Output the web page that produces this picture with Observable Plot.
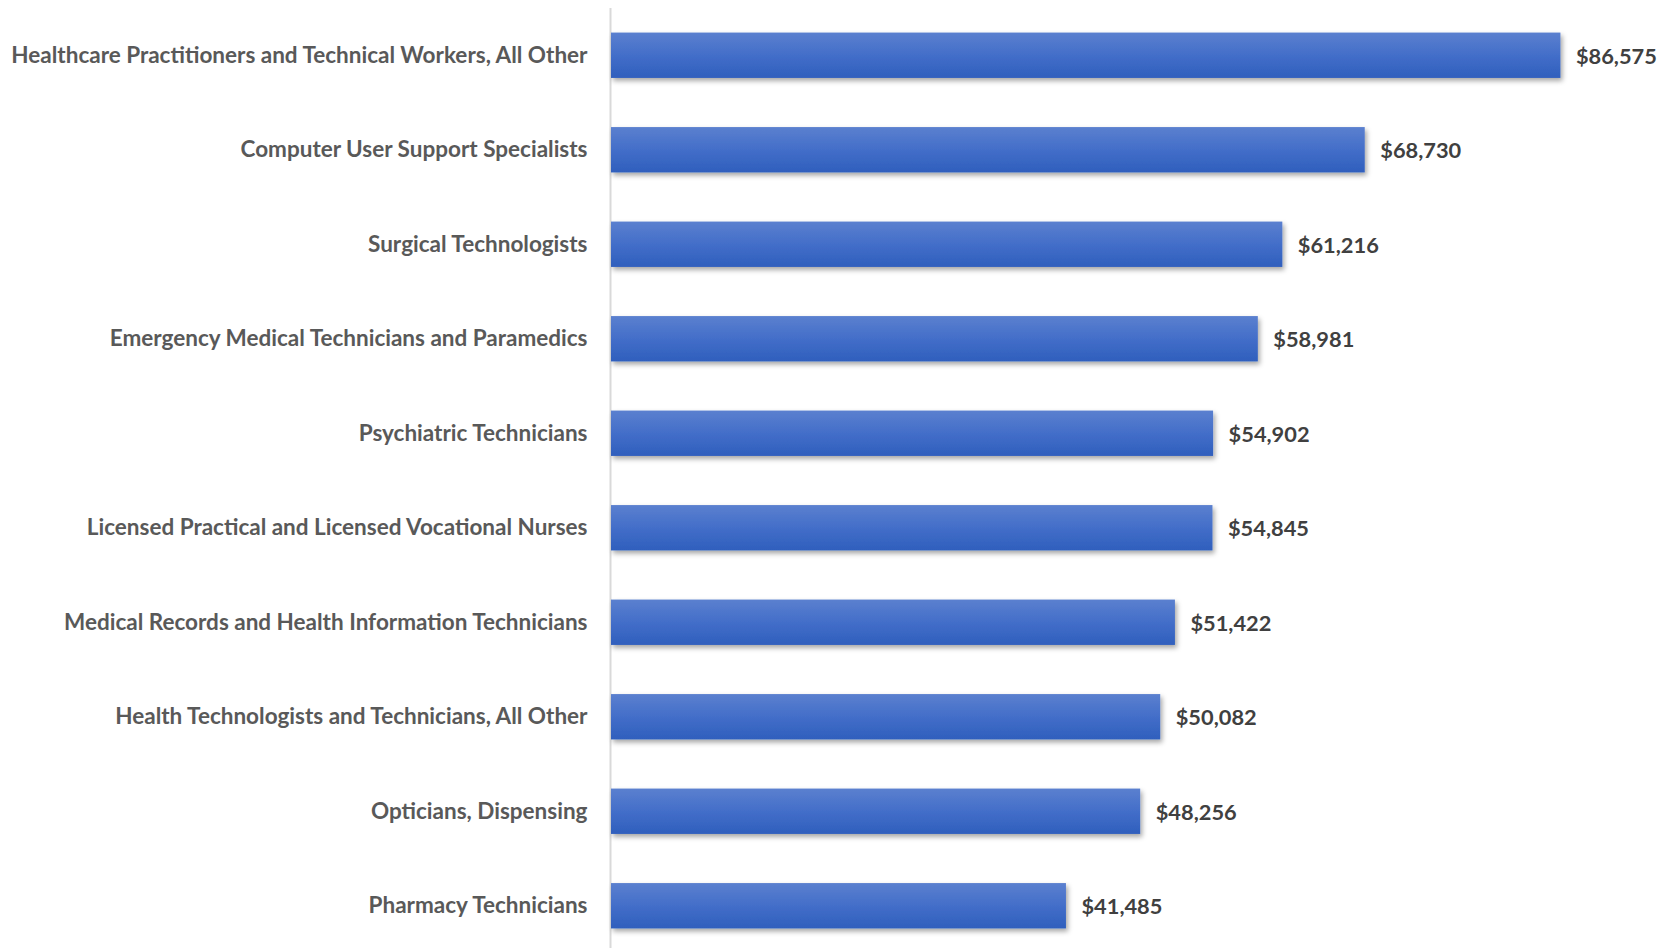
<!DOCTYPE html>
<html>
<head>
<meta charset="utf-8">
<script src="https://cdn.jsdelivr.net/npm/d3@7"></script>
<script src="https://cdn.jsdelivr.net/npm/@observablehq/plot@0.6"></script>
<style>
  html, body { margin: 0; padding: 0; background: #ffffff; }
  #chart svg { display: block; overflow: visible; }
</style>
</head>
<body>
<div id="chart"></div>
<script>
const categories = [
  "Healthcare Practitioners and Technical Workers, All Other",
  "Computer User Support Specialists",
  "Surgical Technologists",
  "Emergency Medical Technicians and Paramedics",
  "Psychiatric Technicians",
  "Licensed Practical and Licensed Vocational Nurses",
  "Medical Records and Health Information Technicians",
  "Health Technologists and Technicians, All Other",
  "Opticians, Dispensing",
  "Pharmacy Technicians"
];
const values = [86575, 68730, 61216, 58981, 54902, 54845, 51422, 50082, 48256, 41485];
const valueLabels = ["$86,575", "$68,730", "$61,216", "$58,981", "$54,902", "$54,845", "$51,422", "$50,082", "$48,256", "$41,485"];

const data = categories.map((c, i) => ({category: c, value: values[i], label: valueLabels[i]}));

const chart = Plot.plot({
  width: 1665,
  height: 948,
  marginLeft: 611,
  marginRight: 67,
  marginTop: 8,
  marginBottom: -5,
  style: {fontFamily: "Lato, 'Open Sans', sans-serif", background: "#ffffff"},
  x: {domain: [0, 90000], axis: null},
  y: {domain: categories, paddingInner: 0.52, paddingOuter: 0.26, round: false, label: null},
  marks: [
    Plot.ruleX([0], {stroke: "#d9d9d9", strokeWidth: 2, dx: -1}),
    Plot.barX(data, {x: "value", y: "category", fill: "url(#barGrad)", inset: 0}),
    Plot.text(data, {x: "value", y: "category", text: "label", dx: 15, dy: 1, textAnchor: "start",
      fill: "#404040", fontSize: 21.8, fontWeight: "bold"}),
    Plot.axisY({tickSize: 0, tickPadding: 24, fontSize: 22.5, fontWeight: "bold", color: "#595959", label: null})
  ]
});

const svg = d3.select(chart);
const defs = svg.insert("defs", ":first-child");
const g = defs.append("linearGradient").attr("id", "barGrad").attr("x1", 0).attr("y1", 0).attr("x2", 0).attr("y2", 1);
g.append("stop").attr("offset", "0%").attr("stop-color", "#5b80cf");
g.append("stop").attr("offset", "50%").attr("stop-color", "#436ec9");
g.append("stop").attr("offset", "100%").attr("stop-color", "#2f5fbd");
const f = defs.append("filter").attr("id", "barShadow").attr("x", "-5%").attr("y", "-30%").attr("width", "110%").attr("height", "170%");
f.append("feDropShadow").attr("dx", 2).attr("dy", 3).attr("stdDeviation", 2.5).attr("flood-color", "#000").attr("flood-opacity", 0.35);
svg.selectAll("rect").filter(function() { return this.getAttribute("fill") === "url(#barGrad)" || (this.parentNode && this.parentNode.getAttribute("fill") === "url(#barGrad)"); })
  .attr("filter", "url(#barShadow)");
svg.selectAll("g[aria-label='text'] text").style("fill", "#404040");
svg.selectAll("g[aria-label='y-axis tick label'] text").style("fill", "#595959");

document.getElementById("chart").appendChild(chart);
</script>
</body>
</html>
